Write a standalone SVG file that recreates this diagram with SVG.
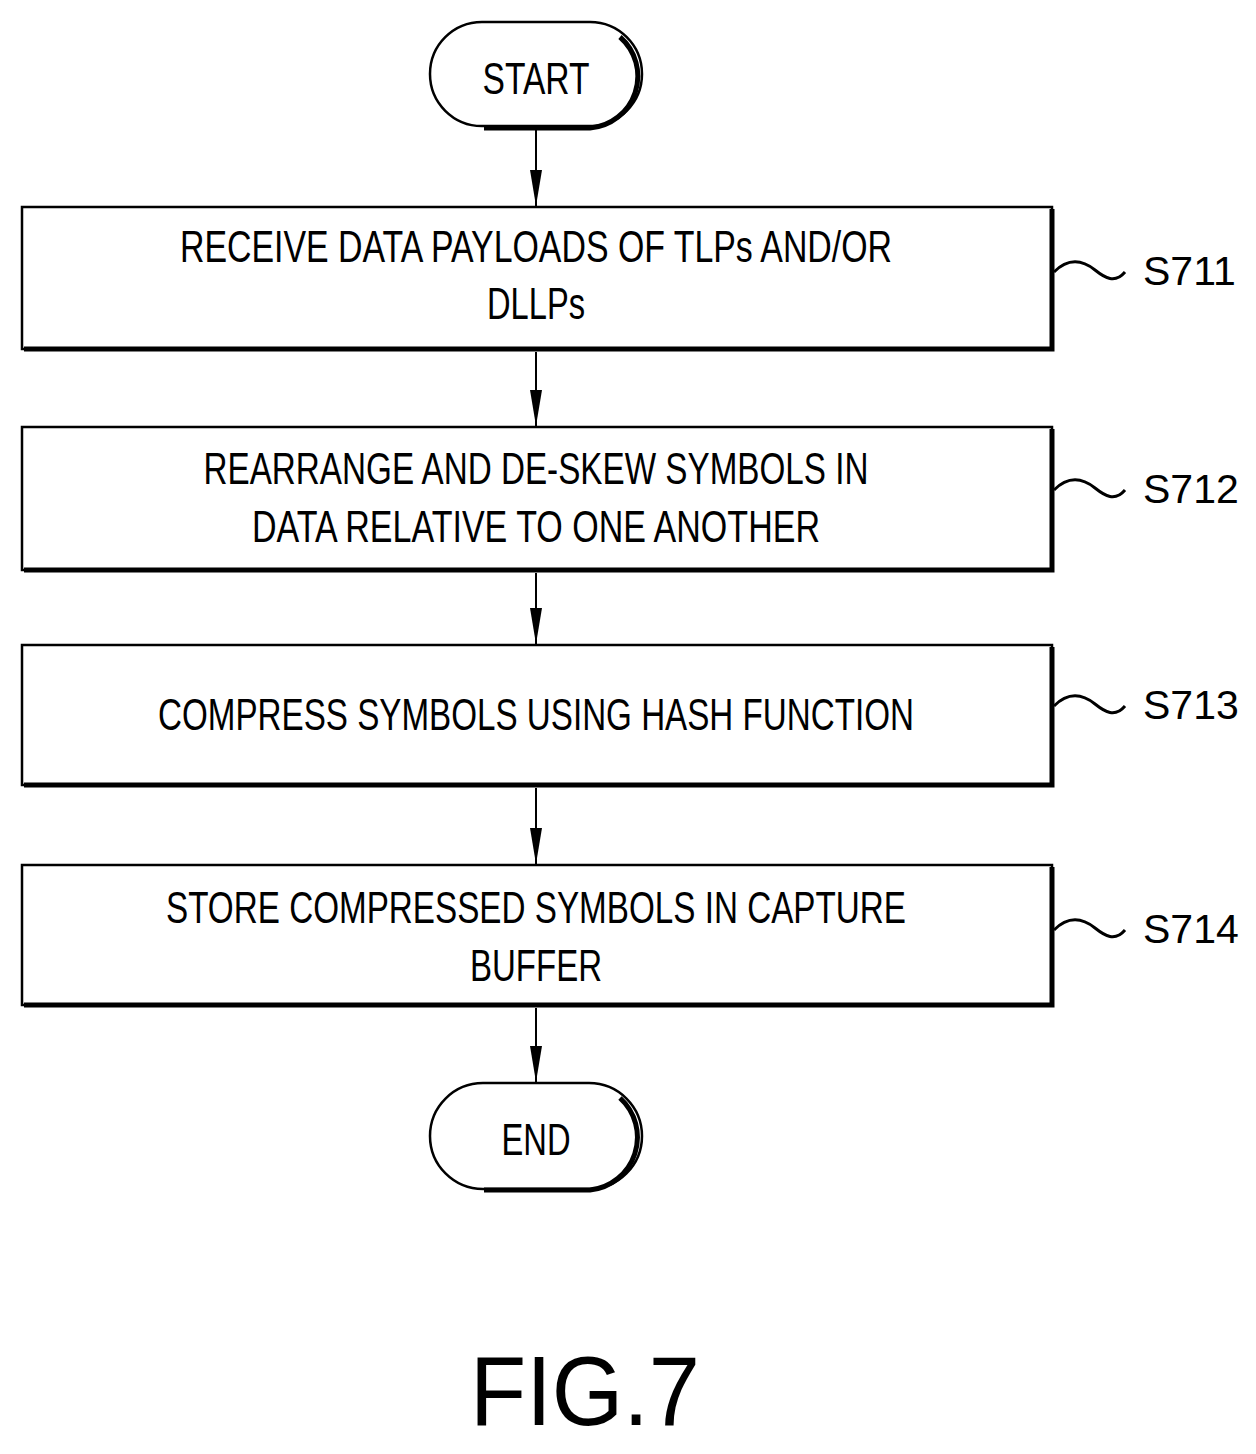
<svg xmlns="http://www.w3.org/2000/svg" width="1256" height="1454" viewBox="0 0 1256 1454">
<defs>
<style>
.box{fill:#fff;stroke:#000;stroke-width:2.5}
.sh{fill:none;stroke:#000;stroke-width:5}
.t{font-family:"Liberation Sans",Arial,sans-serif;font-size:45px;text-anchor:middle;fill:#000}
.lb{font-family:"Liberation Sans",Arial,sans-serif;font-size:41px;fill:#000}
.c{stroke:#000;stroke-width:2;fill:none}
.tl{stroke:#000;stroke-width:3;fill:none}
</style>
</defs>
<g id="connectors">
<line class="c" x1="536" y1="127" x2="536" y2="207"/><path d="M530,170 L542,170 L536,206 Z"/>
<line class="c" x1="536" y1="352" x2="536" y2="427"/><path d="M530,390 L542,390 L536,426 Z"/>
<line class="c" x1="536" y1="573" x2="536" y2="645"/><path d="M530,608 L542,608 L536,644 Z"/>
<line class="c" x1="536" y1="788" x2="536" y2="865"/><path d="M530,828 L542,828 L536,864 Z"/>
<line class="c" x1="536" y1="1008" x2="536" y2="1083"/><path d="M530,1046 L542,1046 L536,1082 Z"/>
</g>
<g id="start">
<rect class="box" x="430" y="22" width="212" height="104" rx="52"/>
<path class="sh" d="M620,37 A52,52 0 0 1 590,128 L484,128"/>
<text class="t" x="536" y="94" textLength="107" lengthAdjust="spacingAndGlyphs">START</text>
</g>
<g id="s711">
<rect class="box" x="22" y="207" width="1030" height="142"/>
<polyline class="sh" points="1052,209 1052,349 24,349"/>
<text class="t" x="536" y="262" textLength="712" lengthAdjust="spacingAndGlyphs">RECEIVE DATA PAYLOADS OF TLPs AND/OR</text>
<text class="t" x="536" y="319" textLength="98" lengthAdjust="spacingAndGlyphs">DLLPs</text>
<path class="tl" d="M1054,272 C1070,256 1085,262 1095,270 C1105,278 1115,284 1125,272"/>
<text class="lb" x="1143" y="285">S711</text>
</g>
<g id="s712">
<rect class="box" x="22" y="427" width="1030" height="143"/>
<polyline class="sh" points="1052,429 1052,570 24,570"/>
<text class="t" x="536" y="484" textLength="665" lengthAdjust="spacingAndGlyphs">REARRANGE AND DE-SKEW SYMBOLS IN</text>
<text class="t" x="536" y="542" textLength="568" lengthAdjust="spacingAndGlyphs">DATA RELATIVE TO ONE ANOTHER</text>
<path class="tl" d="M1054,490 C1070,474 1085,480 1095,488 C1105,496 1115,502 1125,490"/>
<text class="lb" x="1143" y="503">S712</text>
</g>
<g id="s713">
<rect class="box" x="22" y="645" width="1030" height="140"/>
<polyline class="sh" points="1052,647 1052,785 24,785"/>
<text class="t" x="536" y="730" textLength="756" lengthAdjust="spacingAndGlyphs">COMPRESS SYMBOLS USING HASH FUNCTION</text>
<path class="tl" d="M1054,706 C1070,690 1085,696 1095,704 C1105,712 1115,718 1125,706"/>
<text class="lb" x="1143" y="719">S713</text>
</g>
<g id="s714">
<rect class="box" x="22" y="865" width="1030" height="140"/>
<polyline class="sh" points="1052,867 1052,1005 24,1005"/>
<text class="t" x="536" y="923" textLength="740" lengthAdjust="spacingAndGlyphs">STORE COMPRESSED SYMBOLS IN CAPTURE</text>
<text class="t" x="536" y="981" textLength="132" lengthAdjust="spacingAndGlyphs">BUFFER</text>
<path class="tl" d="M1054,930 C1070,914 1085,920 1095,928 C1105,936 1115,942 1125,930"/>
<text class="lb" x="1143" y="943">S714</text>
</g>
<g id="end">
<rect class="box" x="430" y="1083" width="212" height="106" rx="53"/>
<path class="sh" d="M620,1098 A53,53 0 0 1 590,1190 L484,1190"/>
<text class="t" x="536" y="1155" textLength="69" lengthAdjust="spacingAndGlyphs">END</text>
</g>
<text x="585" y="1425" font-family="Liberation Sans,Arial,sans-serif" font-size="98" text-anchor="middle" textLength="230" lengthAdjust="spacingAndGlyphs">FIG.7</text>
</svg>
